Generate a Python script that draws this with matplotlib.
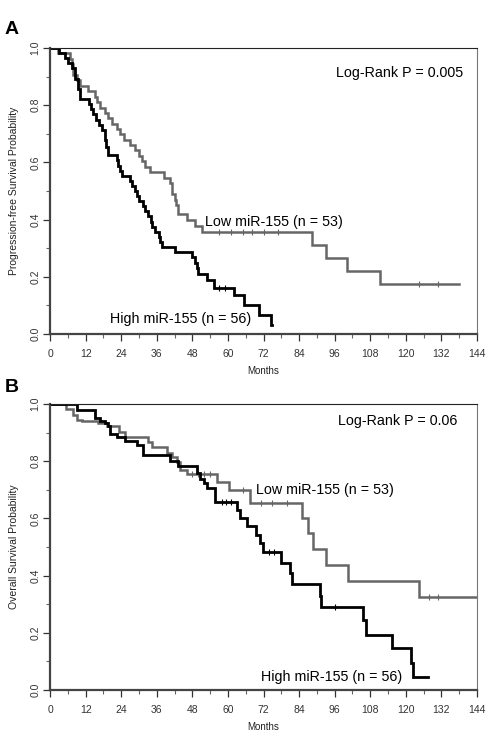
import numpy as np
import matplotlib
matplotlib.use('Agg')
import matplotlib.pyplot as plt

plt.rcParams['font.family'] = ['Liberation Sans', 'DejaVu Sans']

# ── Data ──────────────────────────────────────────────────────────────────────

# Panel A: progression-free survival
pfs_high_t = [0, 3, 5, 6, 7.5, 8.5, 9.3, 10, 13, 13.8, 14.5, 15.5, 16.5, 17.5, 18.5,
              19, 19.6, 22.5, 23, 23.5, 24.2, 27, 27.6, 28.5, 29.3, 30, 31.5, 32, 33,
              34, 34.4, 35.5, 36.6, 37.2, 37.8, 42.3, 47.9, 49, 49.5, 50, 53, 55.2,
              62, 65.4, 70.4, 74.6, 75]
pfs_high_s = [1.0, 0.982, 0.964, 0.946, 0.929, 0.893, 0.857, 0.821, 0.804, 0.786, 0.768,
              0.750, 0.732, 0.714, 0.679, 0.655, 0.625, 0.607, 0.589, 0.571, 0.554,
              0.536, 0.518, 0.500, 0.482, 0.464, 0.446, 0.429, 0.411, 0.393, 0.375,
              0.357, 0.339, 0.321, 0.304, 0.286, 0.268, 0.250, 0.230, 0.210, 0.190,
              0.162, 0.135, 0.100, 0.066, 0.033, 0.033]
pfs_high_cens = [57, 59]

pfs_low_t = [0, 2.8, 6.8, 7.3, 7.8, 9, 10.1, 12.9, 15.2, 16, 17, 18.5, 19.5, 21, 22.5,
             23.5, 25, 27, 28.5, 30, 31, 32, 33.8, 38.3, 40.6, 41.3, 42, 42.5, 43.3,
             46.2, 49, 51.4, 88.5, 93, 100.3, 111.3, 138]
pfs_low_s = [1.0, 0.981, 0.962, 0.943, 0.906, 0.887, 0.867, 0.849, 0.830, 0.811, 0.792,
             0.774, 0.755, 0.736, 0.717, 0.698, 0.679, 0.660, 0.642, 0.623, 0.604,
             0.585, 0.566, 0.547, 0.528, 0.490, 0.470, 0.450, 0.420, 0.400, 0.377,
             0.356, 0.310, 0.265, 0.220, 0.175, 0.175]
pfs_low_cens = [57, 61, 65, 68, 72, 77, 124.4, 131]

# Panel B: overall survival
os_high_t = [0, 9.2, 15.2, 16.9, 18.6, 19.7, 20.3, 22.5, 25.4, 29.3, 31.5, 40.6, 43.3,
             49.6, 50.7, 51.8, 53, 55.8, 62.9, 64.2, 66.5, 69.6, 70.8, 71.9, 78, 80.9,
             81.7, 91, 91.5, 105.7, 106.5, 115.2, 121.7, 122.5, 127.5]
os_high_s = [1.0, 0.980, 0.951, 0.940, 0.933, 0.923, 0.895, 0.885, 0.872, 0.858, 0.822,
             0.800, 0.783, 0.757, 0.737, 0.722, 0.705, 0.658, 0.629, 0.600, 0.573,
             0.542, 0.513, 0.484, 0.443, 0.408, 0.371, 0.330, 0.289, 0.245, 0.192,
             0.146, 0.093, 0.047, 0.047]
os_high_cens = [58, 59.5, 61, 74, 75.5, 96]

os_low_t = [0, 5.3, 7.9, 9, 10.7, 16.3, 19.1, 23.1, 25.4, 33.2, 34.4, 39.4, 41.1, 42.8,
            43.9, 46.2, 56.3, 60.3, 67.6, 85.1, 86.9, 88.7, 93, 100.5, 124.5, 144]
os_low_s = [1.0, 0.981, 0.963, 0.943, 0.940, 0.934, 0.922, 0.903, 0.886, 0.868, 0.849,
            0.830, 0.816, 0.798, 0.769, 0.754, 0.728, 0.700, 0.655, 0.600, 0.548,
            0.492, 0.437, 0.381, 0.326, 0.326]
os_low_cens = [48, 50, 52, 54, 65, 71, 75, 80, 127.8, 131]

x_ticks = list(range(0, 145, 12))
y_ticks = [0.0, 0.2, 0.4, 0.6, 0.8, 1.0]

# ── Helpers ───────────────────────────────────────────────────────────────────

def step_at(ts, ss, t):
    i = np.searchsorted(ts, t, side='right') - 1
    return ss[max(i, 0)]

def km(ax, ts, ss, cens, color, lw):
    ax.step(ts, ss, where='post', color=color, lw=lw, solid_joinstyle='miter')
    cy = [step_at(ts, ss, c) for c in cens]
    ax.plot(cens, cy, ls='none', marker='|', ms=5, mew=0.8, color=color)

def style_ax(ax, ylabel):
    ax.set_xlim(0, 144)
    ax.set_ylim(0, 1.0)
    ax.set_xticks(x_ticks)
    ax.set_xticks(range(6, 144, 12), minor=True)
    ax.set_yticks(y_ticks)
    ax.set_yticks([0.1, 0.3, 0.5, 0.7, 0.9], minor=True)
    ax.set_yticklabels([f"{v:.1f}" for v in y_ticks], rotation=90, va='center')
    ax.tick_params(labelsize=7.5, colors='#333333', length=5, width=0.9)
    ax.tick_params(which='minor', length=3, width=0.8, colors='#666666')
    ax.tick_params(axis='x', pad=6)
    ax.tick_params(axis='y', pad=2)
    for s in ['left', 'bottom']:
        ax.spines[s].set_linewidth(1.6)
        ax.spines[s].set_color('#444444')
    ax.spines['top'].set_linewidth(0.8)
    ax.spines['top'].set_color('#222222')
    ax.spines['right'].set_linewidth(0.8)
    ax.spines['right'].set_color('#777777')
    ax.set_xlabel("Months", fontsize=7, labelpad=5, color='#222222')
    ax.set_ylabel(ylabel, fontsize=7.5, labelpad=8, color='#222222')

# ── Figure ────────────────────────────────────────────────────────────────────

fig = plt.figure(figsize=(4.86, 7.32), dpi=100)
axA = fig.add_axes([0.1029, 0.5437, 0.8786, 0.3907])
axB = fig.add_axes([0.1029, 0.0574, 0.8786, 0.3907])

gray = '#666666'
fs = 10.3
km(axA, pfs_low_t, pfs_low_s, pfs_low_cens, gray, 1.8)
km(axA, pfs_high_t, pfs_high_s, pfs_high_cens, 'black', 2.0)
style_ax(axA, "Progression-free Survival Probability")
axA.text(96.5, 0.913, "Log-Rank P = 0.005", fontsize=fs, va='center')
axA.text(52.4, 0.392, "Low miR-155 (n = 53)", fontsize=fs, va='center')
axA.text(20.3, 0.052, "High miR-155 (n = 56)", fontsize=fs, va='center')

km(axB, os_low_t, os_low_s, os_low_cens, gray, 1.8)
km(axB, os_high_t, os_high_s, os_high_cens, 'black', 2.0)
style_ax(axB, "Overall Survival Probability")
axB.text(97.1, 0.942, "Log-Rank P = 0.06", fontsize=fs, va='center')
axB.text(69.3, 0.700, "Low miR-155 (n = 53)", fontsize=fs, va='center')
axB.text(71.2, 0.047, "High miR-155 (n = 56)", fontsize=fs, va='center')

fig.text(5 / 486, 1 - 30 / 732, "A", fontsize=14, fontweight='bold', va='center')
fig.text(5 / 486, 1 - 387 / 732, "B", fontsize=14, fontweight='bold', va='center')

fig.savefig("out.png", dpi=100)
plt.close(fig)
